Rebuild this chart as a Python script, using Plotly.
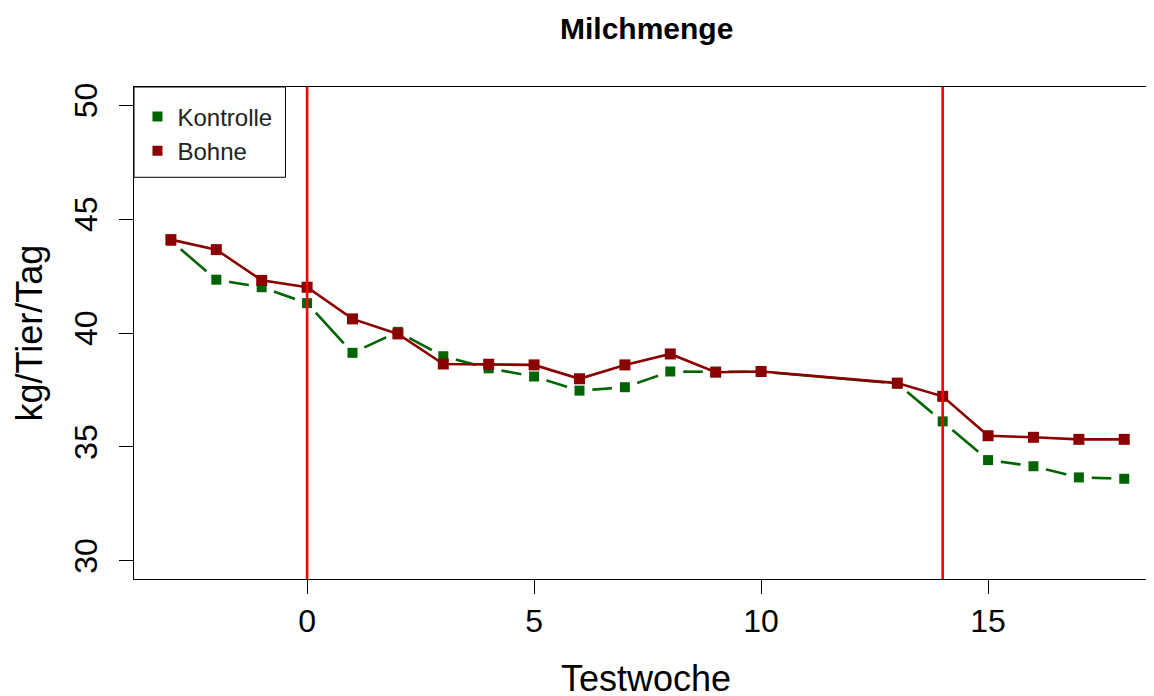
import plotly.graph_objects as go

weeks = [-3, -2, -1, 0, 1, 2, 3, 4, 5, 6, 7, 8, 9, 10, 13, 14, 15, 16, 17, 18]
kontrolle = [44.05, 42.34, 42.01, 41.31, 39.13, 40.05, 38.98, 38.45, 38.09, 37.47,
             37.62, 38.31, 38.3, 38.3, 37.78, 36.12, 34.42, 34.15, 33.66, 33.6]
bohne = [44.1, 43.66, 42.31, 42.01, 40.62, 39.96, 38.64, 38.63, 38.6, 37.99,
         38.6, 39.08, 38.28, 38.31, 37.8, 37.22, 35.49, 35.42, 35.33, 35.33]
phase_marks = [0, 14]
x_ticks = [0, 5, 10, 15]
y_ticks = [30, 35, 40, 45, 50]

GREEN = "#006400"
DARKRED = "#8B0000"
FONT = "Liberation Sans, Arial, sans-serif"

fig = go.Figure()

# legend-only entries (squares only, like R pch=15)
fig.add_trace(go.Scatter(x=[None], y=[None], mode="markers", name="Kontrolle",
                         marker=dict(symbol="square", size=10, color=GREEN)))
fig.add_trace(go.Scatter(x=[None], y=[None], mode="markers", name="Bohne",
                         marker=dict(symbol="square", size=10, color=DARKRED)))

# Kontrolle: type="b" style (line with gaps around points)
fig.add_trace(go.Scatter(x=weeks, y=kontrolle, mode="lines", showlegend=False,
                         line=dict(color=GREEN, width=2.6), hoverinfo="skip"))
fig.add_trace(go.Scatter(x=weeks, y=kontrolle, mode="markers", showlegend=False,
                         marker=dict(symbol="circle", size=26, color="white"),
                         hoverinfo="skip"))
fig.add_trace(go.Scatter(x=weeks, y=kontrolle, mode="markers", showlegend=False,
                         marker=dict(symbol="square", size=10, color=GREEN)))

# Bohne: type="o"
fig.add_trace(go.Scatter(x=weeks, y=bohne, mode="lines+markers", showlegend=False,
                         line=dict(color=DARKRED, width=2.6),
                         marker=dict(symbol="square", size=11, color=DARKRED)))

for xv in phase_marks:
    fig.add_shape(type="line", xref="x", yref="paper", x0=xv, x1=xv, y0=0, y1=1,
                  line=dict(color="#FF0000", width=2.6), layer="above")

# legend frame
fig.add_shape(type="rect", xref="paper", yref="paper", x0=0, x1=0.1485, y0=0.8165, y1=1,
              line=dict(color="black", width=1), fillcolor="rgba(0,0,0,0)", layer="above")

fig.update_layout(
    width=1146, height=688,
    margin=dict(l=125.5, r=0, t=78.7, b=117),
    paper_bgcolor="white", plot_bgcolor="white",
    font=dict(family=FONT, color="black"),
    showlegend=True,
    legend=dict(x=0.0034, y=0.985, xanchor="left", yanchor="top",
                borderwidth=0, bgcolor="rgba(255,255,255,0)",
                font=dict(size=24, family=FONT, color="#222"),
                tracegroupgap=0, itemsizing="trace"),
    xaxis=dict(range=[-3.813, 18.655], tickmode="array", tickvals=x_ticks,
               ticks="outside", ticklen=14, tickwidth=1, tickcolor="black",
               showline=True, linecolor="black", linewidth=1, mirror=True,
               showgrid=False, zeroline=False,
               tickfont=dict(size=32, family=FONT)),
    yaxis=dict(range=[29.2, 50.8], tickmode="array", tickvals=y_ticks,
               ticks="outside", ticklen=14, tickwidth=1, tickcolor="black",
               showline=True, linecolor="black", linewidth=1, mirror=False,
               showgrid=False, zeroline=False, tickangle=-90, ticklabelstandoff=9,
               tickfont=dict(size=32, family=FONT)),
    annotations=[
        dict(text="<b>Milchmenge</b>", xref="paper", yref="paper", x=0.502, y=1.119,
             xanchor="center", yanchor="middle", showarrow=False,
             font=dict(size=30, family=FONT, color="black")),
        dict(text="Testwoche", xref="paper", yref="paper", x=0.502, y=-0.202,
             xanchor="center", yanchor="middle", showarrow=False,
             font=dict(size=36, family=FONT, color="black")),
        dict(text="kg/Tier/Tag", xref="paper", yref="paper", x=-0.1025, y=0.5,
             xanchor="center", yanchor="middle", showarrow=False, textangle=-90,
             font=dict(size=36, family=FONT, color="black")),
    ],
)

fig.write_html("out.html")
